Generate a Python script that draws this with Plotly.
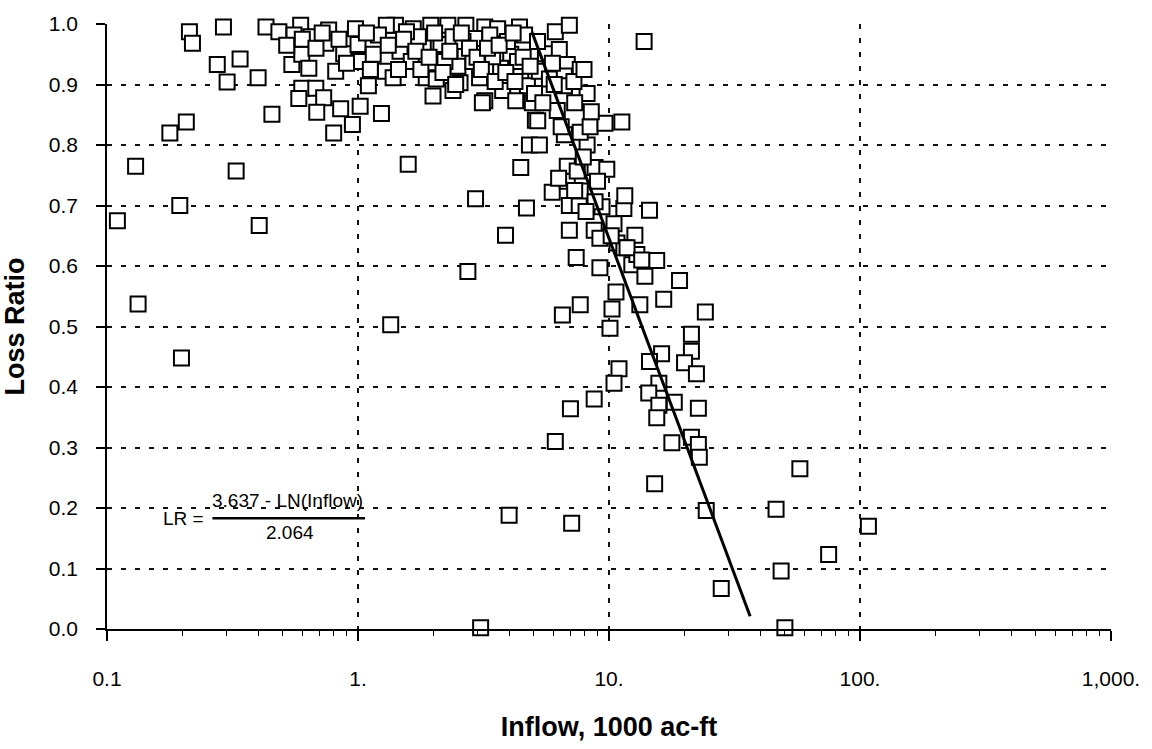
import plotly.graph_objects as go

# ---- data ----
inflow = [
    0.110, 0.130, 0.133, 0.178, 0.207, 0.195, 0.198, 0.213, 0.219, 0.291,
    0.275, 0.301, 0.327, 0.339, 0.400, 0.404, 0.454, 1.35, 2.74, 1.585,
    2.94, 3.87, 3.08, 4.0, 7.1, 6.11, 7.02, 8.73, 6.52, 7.68,
    10.09, 10.96, 10.47, 15.2, 24.4, 28.0, 46.3, 48.5, 50.2, 57.6,
    75.0, 108.0, 13.8, 9.2, 7.40, 10.66, 10.28, 12.33, 15.49, 13.9,
    19.1, 16.52, 13.27, 24.2, 21.3, 21.3, 16.2, 14.5, 20.0, 22.3,
    15.8, 14.4, 15.8, 18.2, 22.7, 15.5, 17.8, 21.3, 22.7, 22.9,
    4.69, 6.95, 7.61, 9.38, 11.46, 14.5, 6.95, 8.73, 9.2, 10.47,
    12.68, 10.76, 11.46, 12.91, 5.94, 6.82, 7.68, 8.80, 11.56, 6.82,
    7.47, 8.80, 9.8, 4.45, 4.82, 5.28, 6.64, 8.18, 5.09, 7.68,
    8.41, 9.64, 11.25, 1.41, 1.66, 1.95, 2.28, 2.69, 3.20, 3.60,
    4.40, 4.61, 6.11, 6.95, 1.47, 1.82, 2.14, 2.67, 2.92, 3.35,
    4.06, 5.58, 6.34, 6.82, 7.68, 1.63, 1.87, 2.05, 2.50, 2.55,
    3.05, 3.70, 4.45, 4.73, 5.28, 5.79, 6.64, 7.61, 8.18, 3.20,
    3.77, 4.25, 4.95, 6.22, 6.64, 0.43, 0.484, 0.591, 0.556, 0.649,
    0.764, 0.977, 1.297, 0.545, 0.597, 0.637, 0.744, 0.815, 0.877, 1.0,
    1.02, 1.15, 1.206, 1.285, 1.38, 0.597, 0.679, 0.581, 0.73, 0.685,
    0.853, 1.02, 1.10, 1.24, 0.80, 0.95, 1.74, 2.39, 2.22, 2.87,
    3.94, 3.44, 1.99, 2.39, 4.32, 5.19, 2.62, 1.56, 3.13,
    0.52, 0.60, 0.68, 0.72, 0.84, 0.90, 1.08, 1.12, 1.32, 1.45,
    1.52, 1.70, 1.78, 1.92, 2.02, 2.18, 2.32, 2.45, 2.58, 2.78,
    2.98, 3.10, 3.28, 3.52, 3.65, 3.88, 4.15, 4.22, 4.55, 4.85,
    5.05, 5.45, 5.95, 6.05, 7.25, 7.95, 7.30, 8.50, 6.45, 7.90,
    9.00, 6.30, 10.2, 11.8, 13.5, 7.30, 8.10, 5.20,
]
loss_ratio = [
    0.675, 0.765, 0.537, 0.820, 0.838, 0.700, 0.448, 0.987, 0.968, 0.995,
    0.933, 0.904, 0.757, 0.942, 0.911, 0.667, 0.851, 0.503, 0.591, 0.768,
    0.711, 0.651, 0.002, 0.188, 0.175, 0.310, 0.364, 0.380, 0.519, 0.536,
    0.497, 0.430, 0.406, 0.240, 0.196, 0.067, 0.198, 0.096, 0.002, 0.265,
    0.123, 0.170, 0.971, 0.597, 0.614, 0.557, 0.529, 0.602, 0.609, 0.583,
    0.576, 0.545, 0.536, 0.524, 0.487, 0.459, 0.455, 0.442, 0.440, 0.422,
    0.406, 0.390, 0.370, 0.375, 0.365, 0.349, 0.308, 0.317, 0.305, 0.284,
    0.696, 0.700, 0.700, 0.698, 0.695, 0.692, 0.659, 0.659, 0.646, 0.670,
    0.651, 0.638, 0.630, 0.619, 0.722, 0.740, 0.724, 0.706, 0.716, 0.765,
    0.757, 0.763, 0.760, 0.763, 0.800, 0.800, 0.817, 0.800, 0.841, 0.821,
    0.830, 0.836, 0.838, 0.998, 0.992, 0.998, 0.998, 0.998, 0.995, 0.992,
    0.995, 0.982, 0.987, 0.998, 0.955, 0.966, 0.966, 0.951, 0.976, 0.982,
    0.950, 0.951, 0.958, 0.933, 0.925, 0.938, 0.911, 0.909, 0.930, 0.903,
    0.911, 0.927, 0.914, 0.898, 0.922, 0.909, 0.914, 0.885, 0.885, 0.873,
    0.890, 0.873, 0.870, 0.857, 0.898, 0.995, 0.987, 0.998, 0.982, 0.979,
    0.990, 0.992, 0.998, 0.933, 0.950, 0.927, 0.968, 0.922, 0.951, 0.966,
    0.938, 0.950, 0.982, 0.922, 0.911, 0.894, 0.894, 0.877, 0.878, 0.854,
    0.860, 0.864, 0.898, 0.852, 0.820, 0.834, 0.979, 0.979, 0.938, 0.938,
    0.971, 0.946, 0.881, 0.890, 0.938, 0.971, 0.971, 0.987, 0.870,
    0.965, 0.975, 0.960, 0.985, 0.975, 0.935, 0.985, 0.925, 0.965, 0.925,
    0.975, 0.955, 0.925, 0.945, 0.985, 0.920, 0.955, 0.900, 0.985, 0.960,
    0.945, 0.925, 0.960, 0.905, 0.965, 0.920, 0.985, 0.905, 0.945, 0.930,
    0.885, 0.870, 0.935, 0.900, 0.905, 0.925, 0.870, 0.855, 0.830, 0.780,
    0.740, 0.745, 0.650, 0.630, 0.610, 0.725, 0.690, 0.840,
]

# fitted line LR = (3.637 - LN(Inflow)) / 2.064, endpoints as drawn
trend_inflow = [4.93, 36.5]
trend_lr = [0.987, 0.021]

x_tick_vals = [0.1, 1, 10, 100, 1000]
x_tick_text = ["0.1", "1.", "10.", "100.", "1,000."]
x_minor_vals = [m * 10.0 ** e for e in range(-1, 3) for m in range(2, 10)]
y_tick_vals = [0.0, 0.1, 0.2, 0.3, 0.4, 0.5, 0.6, 0.7, 0.8, 0.9, 1.0]
y_tick_text = ["0.0", "0.1", "0.2", "0.3", "0.4", "0.5", "0.6", "0.7", "0.8", "0.9", "1.0"]

FONT = "Liberation Sans, Arial, Helvetica, sans-serif"

fig = go.Figure()
fig.add_trace(go.Scatter(
    x=inflow, y=loss_ratio, mode="markers",
    marker=dict(symbol="square", size=15, color="white",
                line=dict(color="black", width=2)),
    cliponaxis=False, showlegend=False, hoverinfo="x+y",
))
fig.add_trace(go.Scatter(
    x=trend_inflow, y=trend_lr, mode="lines",
    line=dict(color="black", width=3),
    cliponaxis=False, showlegend=False,
))

fig.update_layout(
    width=1152, height=749,
    margin=dict(l=107, r=35, t=22, b=111),
    paper_bgcolor="white", plot_bgcolor="white",
    font=dict(family=FONT, size=21, color="black"),
    xaxis=dict(
        type="log", range=[-1, 3],
        tickmode="array", tickvals=x_tick_vals, ticktext=x_tick_text,
        ticks="outside", ticklen=10, tickwidth=1.5, tickcolor="black",
        ticklabelstandoff=20,
        minor=dict(tickmode="array", tickvals=x_minor_vals, ticks="outside",
                   ticklen=5, tickwidth=1, tickcolor="black", showgrid=False),
        showline=True, linecolor="black", linewidth=1.5,
        showgrid=True, gridcolor="#111111", gridwidth=1.5, griddash="5px,9px",
        zeroline=False,
        title=dict(text="<b>Inflow, 1000 ac-ft</b>",
                   font=dict(family=FONT, size=27, color="black"), standoff=28),
    ),
    yaxis=dict(
        range=[0, 1.0],
        tickmode="array", tickvals=y_tick_vals, ticktext=y_tick_text,
        ticks="outside", ticklen=9, tickwidth=1.5, tickcolor="black",
        ticklabelstandoff=14,
        showline=True, linecolor="black", linewidth=1.5,
        showgrid=True, gridcolor="#111111", gridwidth=1.5, griddash="5px,9px",
        zeroline=False,
        title=dict(text="<b>Loss Ratio</b>",
                   font=dict(family=FONT, size=27, color="black"), standoff=16),
    ),
    annotations=[
        dict(xref="paper", yref="paper", x=0.0762, y=0.183, text="LR =",
             showarrow=False, font=dict(family=FONT, size=19, color="black"),
             xanchor="center", yanchor="middle"),
        dict(xref="paper", yref="paper", x=0.1797, y=0.213, text="3.637 - LN(Inflow)",
             showarrow=False, font=dict(family=FONT, size=19, color="black"),
             xanchor="center", yanchor="middle"),
        dict(xref="paper", yref="paper", x=0.1827, y=0.160, text="2.064",
             showarrow=False, font=dict(family=FONT, size=19, color="black"),
             xanchor="center", yanchor="middle"),
    ],
    shapes=[
        dict(type="rect", xref="paper", yref="paper", x0=0.053, x1=0.259,
             y0=0.192, y1=0.232, fillcolor="white", line=dict(width=0),
             layer="between"),
        dict(type="line", xref="paper", yref="paper", x0=0.105, x1=0.257,
             y0=0.183, y1=0.183, line=dict(color="black", width=2.5)),
    ],
)

fig.write_html("out.html")
